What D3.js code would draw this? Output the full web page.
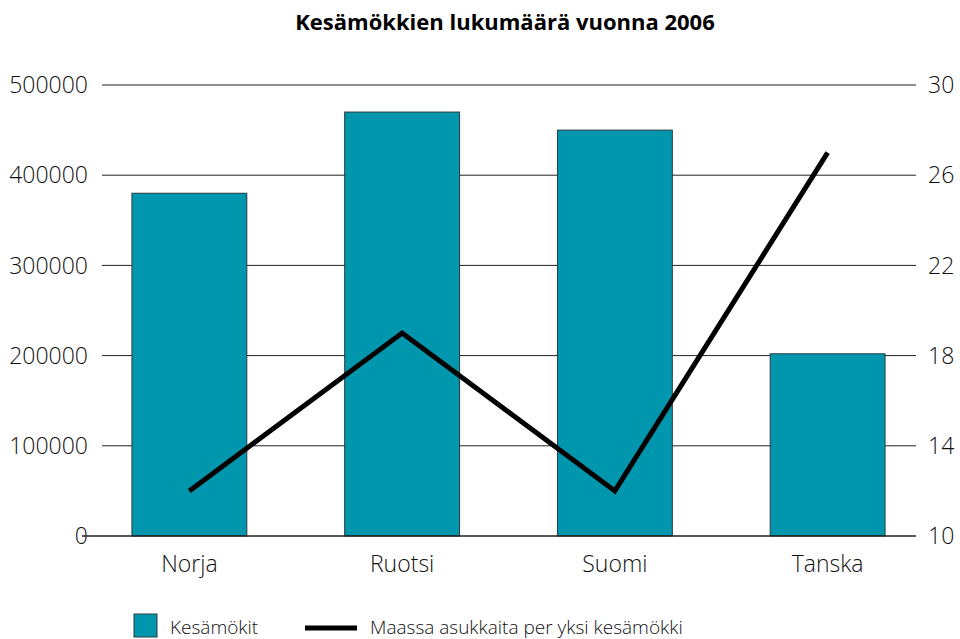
<!DOCTYPE html>
<html>
<head>
<meta charset="utf-8">
<script src="https://cdn.jsdelivr.net/npm/d3@7"></script>
<style>
  body { margin: 0; background: #fff; }
  svg text { font-family: "Open Sans", sans-serif; fill: #111; }
</style>
</head>
<body>
<div id="chart"></div>
<script>
var maat = ["Norja", "Ruotsi", "Suomi", "Tanska"];
var mokit = [380000, 470000, 450000, 202000];
var asukkaat = [12, 19, 12, 27];
var leftTicks = [0, 100000, 200000, 300000, 400000, 500000];
var rightTicks = [10, 14, 18, 22, 26, 30];

var width = 960, height = 639;
var plotTop = 85, plotBottom = 536;

var svg = d3.select("#chart").append("svg")
  .attr("width", width)
  .attr("height", height);

var x = d3.scaleBand().domain(maat).range([83, 934]).paddingInner(0.46).paddingOuter(0.23);
var y = d3.scaleLinear().domain([0, 500000]).range([plotBottom, plotTop]);
var y2 = d3.scaleLinear().domain([10, 30]).range([plotBottom, plotTop]);

// title
svg.append("text")
  .attr("x", 505).attr("y", 30)
  .attr("text-anchor", "middle")
  .style("font-size", "22px").style("font-weight", "bold").style("fill", "#000")
  .text("Kesämökkien lukumäärä vuonna 2006");

// gridlines
svg.selectAll("line.grid")
  .data(leftTicks.slice(1))
  .enter().append("line")
  .attr("class", "grid")
  .attr("x1", 102).attr("x2", 916)
  .attr("y1", function(d) { return y(d); })
  .attr("y2", function(d) { return y(d); })
  .style("stroke", "#222").style("stroke-width", 1);

// left labels
svg.selectAll("text.yl")
  .data(leftTicks)
  .enter().append("text")
  .attr("class", "yl")
  .attr("x", 88)
  .attr("y", function(d) { return y(d); })
  .attr("dy", "0.36em")
  .attr("text-anchor", "end")
  .style("font-size", "23px").style("font-weight", 300)
  .text(function(d) { return d; });

// right labels
svg.selectAll("text.yr")
  .data(rightTicks)
  .enter().append("text")
  .attr("class", "yr")
  .attr("x", 928)
  .attr("y", function(d) { return y2(d); })
  .attr("dy", "0.36em")
  .style("font-size", "23px").style("font-weight", 300)
  .text(function(d) { return d; });

// bars
svg.selectAll("rect.bar")
  .data(mokit)
  .enter().append("rect")
  .attr("class", "bar")
  .attr("x", function(d, i) { return x(maat[i]); })
  .attr("width", x.bandwidth())
  .attr("y", function(d) { return y(d); })
  .attr("height", function(d) { return y(0) - y(d); })
  .style("fill", "#0097ae")
  .style("stroke", "#2a3a40").style("stroke-width", 1);

// baseline
svg.append("line")
  .attr("x1", 82).attr("x2", 916)
  .attr("y1", y(0)).attr("y2", y(0))
  .style("stroke", "#222").style("stroke-width", 1.5);

// category labels
svg.selectAll("text.cat")
  .data(maat)
  .enter().append("text")
  .attr("class", "cat")
  .attr("x", function(d) { return x(d) + x.bandwidth() / 2; })
  .attr("y", 572)
  .attr("text-anchor", "middle")
  .style("font-size", "23px").style("font-weight", 300)
  .text(function(d) { return d; });

// line
var line = d3.line()
  .x(function(d, i) { return x(maat[i]) + x.bandwidth() / 2; })
  .y(function(d) { return y2(d); });

svg.append("path")
  .datum(asukkaat)
  .attr("d", line)
  .style("fill", "none")
  .style("stroke", "#000")
  .style("stroke-width", 5);

// legend
svg.append("rect")
  .attr("x", 134).attr("y", 614).attr("width", 23).attr("height", 23)
  .style("fill", "#0097ae").style("stroke", "#2a3a40").style("stroke-width", 1);
svg.append("text")
  .attr("x", 170).attr("y", 634)
  .style("font-size", "19px").style("font-weight", 300)
  .text("Kesämökit");
svg.append("line")
  .attr("x1", 305).attr("x2", 357).attr("y1", 628).attr("y2", 628)
  .style("stroke", "#000").style("stroke-width", 5);
svg.append("text")
  .attr("x", 370).attr("y", 634)
  .style("font-size", "19px").style("font-weight", 300)
  .text("Maassa asukkaita per yksi kesämökki");
</script>
</body>
</html>
